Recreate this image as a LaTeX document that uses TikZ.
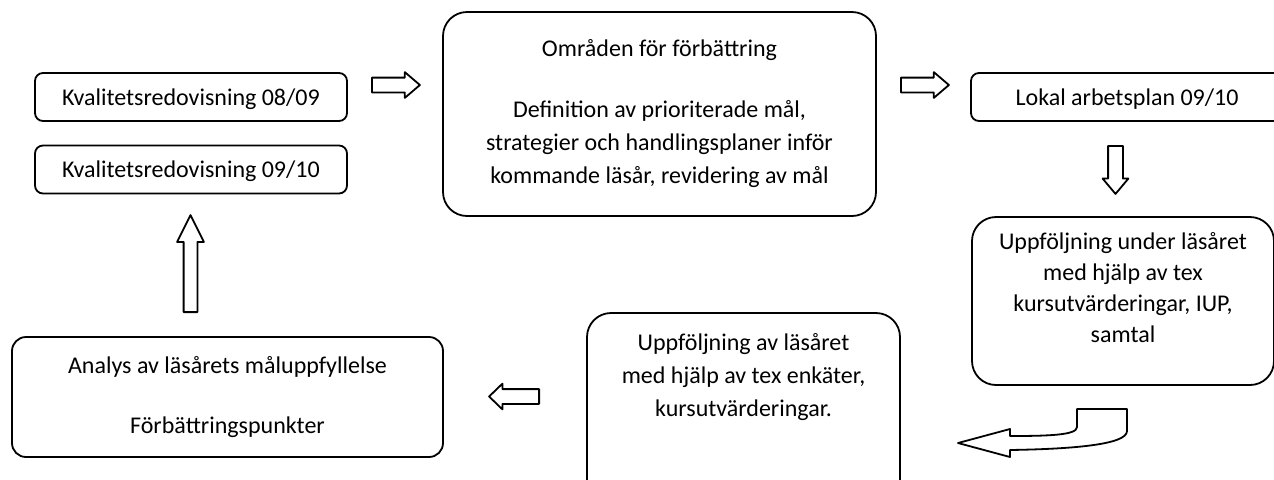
\documentclass[tikz,border=0pt]{standalone}
\usepackage{fontspec}
\setmainfont{Carlito}
\usetikzlibrary{shapes.arrows}

\begin{document}
\begin{tikzpicture}[x=0.5pt,y=-0.5pt,line width=0.9pt,line join=round,
  font=\fontsize{12}{16.5}\selectfont,
  box/.style={draw,rounded corners=4pt,minimum width=156pt,minimum height=24pt,inner sep=0pt,text depth=0pt},
  bigbox/.style={draw,rounded corners=12pt,inner sep=0pt,align=center},
  txt/.style={anchor=north,align=center,inner sep=0pt},
  blockarrow/.style={single arrow,draw,anchor=tail,inner xsep=0pt,inner ysep=3.25pt,
    single arrow head extend=2.75pt,minimum height=24pt},
  vblockarrow/.style={blockarrow,inner xsep=3.25pt,inner ysep=0pt}]

\useasboundingbox (0,0) rectangle (1274,479);

\node[box] (k1) at (191,97) {Kvalitetsredovisning 08/09};
\node[box] (k2) [below of=k1,node distance=36.25pt] {Kvalitetsredovisning 09/10};

\node[bigbox,minimum width=216.5pt,minimum height=102pt] (omr) at (659.5,114)
  {Områden för förbättring\\[14pt]
   Definition av prioriterade mål,\\
   strategier och handlingsplaner inför\\
   kommande läsår, revidering av mål};

\node[box] (lokal) at (1127,97) {Lokal arbetsplan 09/10};

\node[bigbox,minimum width=151pt,minimum height=84pt,
  label={[txt,yshift=-7.5pt,font=\fontsize{12}{15.5}\selectfont]north:{Uppföljning under läsåret\\ med hjälp av tex\\ kursutvärderingar, IUP,\\ samtal}}]
  (uppu) at (1123,301) {};

\node[bigbox,minimum width=156.5pt,minimum height=98.5pt,
  label={[txt,yshift=-10pt]north:{Uppföljning av läsåret\\ med hjälp av tex enkäter,\\ kursutvärderingar.}}]
  (uppa) at (743.5,411.5) {};

\node[bigbox,rounded corners=7pt,minimum width=215.5pt,minimum height=60pt] (analys) at (227.5,397)
  {Analys av läsårets måluppfyllelse\\[13.5pt]
   Förbättringspunkter};

% block arrows, placed by their tails
\node[blockarrow,single arrow tip angle=81] (a1) at (371,85) {};
\node[blockarrow,single arrow tip angle=81] (a2) at (900,85) {};
\node[vblockarrow,shape border rotate=270,single arrow tip angle=80] (a3) at (1115.5,145) {};
\node[blockarrow,shape border rotate=180,single arrow tip angle=88,minimum height=25pt] (a4) at (540,396.5) {};
\node[vblockarrow,shape border rotate=90,single arrow tip angle=53,inner xsep=3pt,
  single arrow head extend=3.25pt,minimum height=48.5pt] (a5) at (190.5,313) {};

% curved arrow back to the left
\draw (958,443) -- (1010,429) -- (1010,436)
  .. controls (1050,436) and (1077,435) .. (1077,427) -- (1077,409) -- (1127,409) -- (1127,431)
  .. controls (1127,445) and (1070,449) .. (1010,450) -- (1010,457) -- cycle;

\end{tikzpicture}
\end{document}
